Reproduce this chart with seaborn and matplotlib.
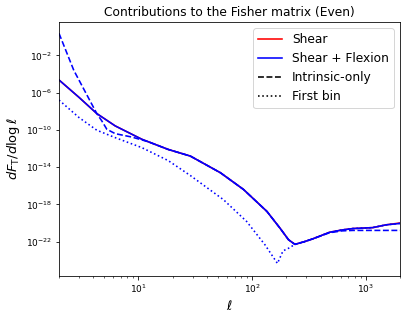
import numpy as np
import pandas as pd
import matplotlib
matplotlib.use("Agg")
import matplotlib.pyplot as plt
from matplotlib.lines import Line2D
import seaborn as sns

# multipoles and log10 of dF_T/dlog(ell)
ell_main = [2, 3, 4.3, 6.25, 10.7, 18.3, 28.6, 52.6, 84, 135, 176, 209, 238, 290, 343, 480, 620, 770,
            1150, 1510, 2000]
shear_flex_log10 = [-4.63, -6.5, -8.24, -9.57, -11.0, -12.1, -12.81, -14.6, -16.4, -18.76, -20.56, -21.8,
                    -22.3, -22.0, -21.7, -21.0, -20.75, -20.6, -20.5, -20.2, -20.05]
shear_log10 = [-4.63, -6.5, -8.24, -9.57, -11.0, -12.1, -12.81, -14.6, -16.4, -18.76, -20.56, -21.8,
               -22.3, -22.0, -21.7, -21.0, -20.75, -20.6, -20.5, -20.2, -20.0]

ell_intr = [2, 2.7, 4.3, 4.76, 5.27, 6.25, 8.7, 12.2, 18.3, 28.6, 52.6, 84, 135, 176, 209, 238, 290, 343,
            480, 620, 770, 1150, 1510, 2000]
intrinsic_log10 = [0.38, -3.6, -8.24, -9.03, -9.93, -10.4, -10.76, -11.27, -12.1, -12.81, -14.6, -16.4,
                   -18.76, -20.56, -21.8, -22.3, -22.0, -21.7, -21.05, -20.85, -20.8, -20.8, -20.8, -20.8]

ell_first = [2, 3, 4.3, 6.25, 10.7, 18.3, 28.6, 56, 89.5, 130, 167, 187, 209, 238, 290, 343, 480, 620,
             770, 1150, 1510, 2000]
first_bin_log10 = [-6.79, -8.67, -10.03, -10.83, -11.9, -13.3, -14.9, -17.5, -19.84, -22.36, -24.35, -23.0,
                   -22.72, -22.3, -22.0, -21.7, -21.0, -20.75, -20.6, -20.5, -20.2, -20.05]

series = [
    ("Shear", ell_main, shear_log10, "red", "-"),
    ("Shear + Flexion", ell_main, shear_flex_log10, "blue", "-"),
    ("Intrinsic-only", ell_intr, intrinsic_log10, "blue", "--"),
    ("First bin", ell_first, first_bin_log10, "blue", ":"),
]

DPI = 72
LW = 1.6
fig = plt.figure(figsize=(407 / DPI, 317 / DPI), dpi=DPI)
ax = fig.add_axes([59 / 407, 1 - 276 / 317, (400 - 59) / 407, (276 - 22) / 317])

for name, ell, lg, col, ls in series:
    df = pd.DataFrame({"ell": ell, "val": 10.0 ** np.array(lg)})
    sns.lineplot(data=df, x="ell", y="val", ax=ax, color=col, linestyle=ls,
                 linewidth=LW, estimator=None, sort=False, legend=False)

ax.set_xscale("log")
ax.set_yscale("log")
ax.set_xlim(2, 2000)
ax.set_ylim(10 ** -25.7, 10 ** 1.6)
ax.set_yticks([10.0 ** e for e in (-22, -18, -14, -10, -6, -2)])
ax.yaxis.set_minor_locator(matplotlib.ticker.NullLocator())
ax.tick_params(labelsize=9)

ax.set_title("Contributions to the Fisher matrix (Even)", fontsize=12.2)
ax.set_xlabel(r"$\ell$", fontsize=13)
ax.set_ylabel(r"$dF_{\rm T}/d\log\ell$", fontsize=13)

handles = [
    Line2D([], [], color="red", ls="-", lw=LW),
    Line2D([], [], color="blue", ls="-", lw=LW),
    Line2D([], [], color="black", ls="--", lw=LW),
    Line2D([], [], color="black", ls=":", lw=LW),
]
ax.legend(handles, [s[0] for s in series], loc="upper right", fontsize=12.2)

fig.savefig("out.png", dpi=DPI)
